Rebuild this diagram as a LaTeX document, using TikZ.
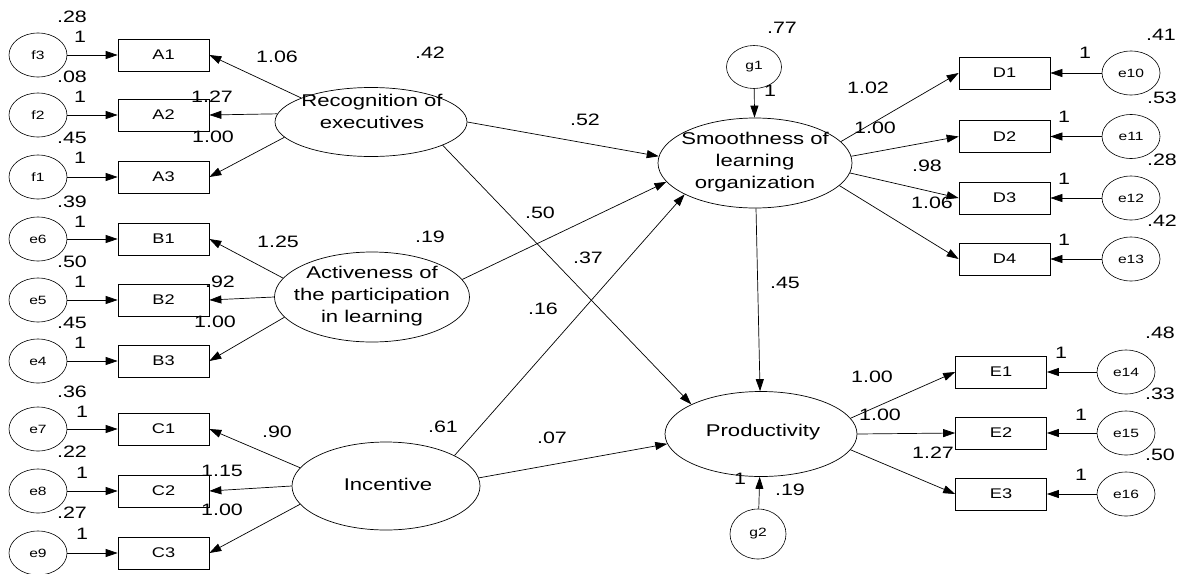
\documentclass[tikz,border=0pt]{standalone}
\usepackage{fontspec}
\setmainfont{Liberation Sans}[FakeStretch=1.3]
\usetikzlibrary{arrows.meta,shapes.geometric}
\begin{document}
\begin{tikzpicture}[x=1pt,y=-1pt,
 box/.style={draw, line width=0.7pt, minimum width=91pt, minimum height=32pt, inner sep=0pt, font=\fontsize{14}{16}\selectfont},
 err/.style={draw, ellipse, line width=0.6pt, minimum width=58pt, minimum height=44pt, inner sep=0pt, font=\fontsize{12}{14}\selectfont},
 lat/.style={draw, ellipse, line width=0.7pt, inner sep=0pt},
 ltxt/.style={align=center, inner sep=0pt, font=\fontsize{17}{22}\selectfont},
 num/.style={inner sep=0pt, font=\fontsize{16.5}{18}\selectfont},
 arr/.style={-{Triangle[length=12pt,width=8pt]}, line width=0.7pt},
]
\useasboundingbox (0,0) rectangle (1182,573);
% observed boxes left
\node[box] (A1) at (163.5,55) {A1};
\node[box] (A2) at (163.5,115) {A2};
\node[box] (A3) at (163.5,177) {A3};
\node[box] (B1) at (163.5,239) {B1};
\node[box] (B2) at (163.5,300) {B2};
\node[box] (B3) at (163.5,361) {B3};
\node[box] (C1) at (163.5,429) {C1};
\node[box] (C2) at (163.5,491) {C2};
\node[box] (C3) at (163.5,553) {C3};
% error circles left
\node[err] (f3) at (38,55) {f3};
\node[err] (f2) at (38,115) {f2};
\node[err] (f1) at (38,177) {f1};
\node[err] (e6) at (38,239) {e6};
\node[err] (e5) at (38,300) {e5};
\node[err] (e4) at (38,361) {e4};
\node[err] (e7) at (38,429) {e7};
\node[err] (e8) at (38,491) {e8};
\node[err] (e9) at (38,553) {e9};
% right boxes
\node[box] (D1) at (1004.5,73) {D1};
\node[box] (D2) at (1004.5,136.5) {D2};
\node[box] (D3) at (1004.5,198) {D3};
\node[box] (D4) at (1004.5,259) {D4};
\node[box] (E1) at (1001,372) {E1};
\node[box] (E2) at (1001,433) {E2};
\node[box] (E3) at (1001,494) {E3};
\node[err] (e10) at (1131,73) {e10};
\node[err] (e11) at (1131,136.5) {e11};
\node[err] (e12) at (1131,198) {e12};
\node[err] (e13) at (1131,259) {e13};
\node[err] (e14) at (1126,372) {e14};
\node[err] (e15) at (1126,433) {e15};
\node[err] (e16) at (1126,494) {e16};
% latent
\node[lat, minimum width=192pt, minimum height=69pt] (rec) at (371,122) {};
\node[lat, minimum width=195pt, minimum height=90pt] (act) at (372,297) {};
\node[lat, minimum width=188pt, minimum height=88pt] (inc) at (386,486) {};
\node[lat, minimum width=194pt, minimum height=90pt] (sm) at (755,163) {};
\node[lat, minimum width=192pt, minimum height=85pt] (prod) at (761,434) {};
\node[ltxt] (rect) at (372,111) {Recognition of\\executives};
\node[ltxt] (actt) at (372,296) {Activeness of\\the participation\\in learning};
\node[ltxt] (inct) at (388,484) {Incentive};
\node[ltxt] (smt) at (755,162) {Smoothness of\\learning\\organization};
\node[ltxt] (prodt) at (763,432) {Productivity};
\node[err, minimum width=55pt, minimum height=43pt] (g1) at (754,67) {g1};
\node[err, minimum width=56pt, minimum height=50pt] (g2) at (758,534) {g2};
% error arrows
\foreach \e/\b in {f3/A1,f2/A2,f1/A3,e6/B1,e5/B2,e4/B3,e7/C1,e8/C2,e9/C3,e10/D1,e11/D2,e12/D3,e13/D4,e14/E1,e15/E2,e16/E3}
  \draw[arr] (\e) -- (\b);
% loadings left
\draw[arr] (rec.161) -- (A1.east);
\draw[arr] (rec.175) -- (A2.east);
\draw[arr] (rec.190) -- (A3.east);
\draw[arr] (act.168) -- (B1.east);
\draw[arr] (act.180) -- (B2.east);
\draw[arr] (act.193) -- (B3.east);
\draw[arr] (inc.168) -- (C1.east);
\draw[arr] (inc.180) -- (C2.east);
\draw[arr] (inc.192) -- (C3.east);
% structural
\draw[arr] (rec.0) -- (sm.176);
\draw[arr] (rec.-18) -- (prod.157);
\draw[arr] (act.11) -- (sm.192);
\draw[arr] (inc.24) -- (sm.204);
\draw[arr] (inc.5) -- (prod.186);
\draw[arr] (sm) -- (prod);
\draw[arr] (g1) -- (sm);
\draw[arr] (g2) -- (prod);
% loadings right
\draw[arr] (sm.14) -- (D1.west);
\draw[arr] (sm.4) -- (D2.west);
\draw[arr] (sm.-6) -- (D3.west);
\draw[arr] (sm.-15) -- (D4.west);
\draw[arr] (prod.10) -- (E1.west);
\draw[arr] (prod.0) -- (E2.west);
\draw[arr] (prod.-10) -- (E3.west);
% numbers left
\node[num] (n1) at (72,17) {.28};
\node[num] (n2) at (80,37) {1};
\node[num] (n3) at (72,77) {.08};
\node[num] (n4) at (80,97) {1};
\node[num] (n5) at (72,138) {.45};
\node[num] (n6) at (80,158) {1};
\node[num] (n7) at (72,202) {.39};
\node[num] (n8) at (80,222) {1};
\node[num] (n9) at (72,262) {.50};
\node[num] (n10) at (80,282) {1};
\node[num] (n11) at (72,323) {.45};
\node[num] (n12) at (80,343) {1};
\node[num] (n13) at (72,392) {.36};
\node[num] (n14) at (82,412) {1};
\node[num] (n15) at (72,452) {.22};
\node[num] (n16) at (82,473) {1};
\node[num] (n17) at (72,513) {.27};
\node[num] (n18) at (82,534) {1};
\node[num] (n19) at (277,57) {1.06};
\node[num] (n20) at (212,97) {1.27};
\node[num] (n21) at (213,137) {1.00};
\node[num] (n22) at (430,53) {.42};
\node[num] (n23) at (278,242) {1.25};
\node[num] (n24) at (220,282) {.92};
\node[num] (n25) at (215,322) {1.00};
\node[num] (n26) at (430,237) {.19};
\node[num] (n27) at (277,432) {.90};
\node[num] (n28) at (222,471) {1.15};
\node[num] (n29) at (222,510) {1.00};
\node[num] (n30) at (443,427) {.61};
% middle
\node[num] (n31) at (585,120) {.52};
\node[num] (n32) at (540,213) {.50};
\node[num] (n33) at (588,258) {.37};
\node[num] (n34) at (543,309) {.16};
\node[num] (n35) at (552,438) {.07};
\node[num] (n36) at (785,283) {.45};
\node[num] (n37) at (782,28) {.77};
\node[num] (n38) at (770,91) {1};
\node[num] (n39) at (740,479) {1};
\node[num] (n40) at (790,490) {.19};
% right
\node[num] (n41) at (868,88) {1.02};
\node[num] (n42) at (875,128) {1.00};
\node[num] (n43) at (927,166) {.98};
\node[num] (n44) at (932,203) {1.06};
\node[num] (n45) at (1085,53) {1};
\node[num] (n46) at (1064,117) {1};
\node[num] (n47) at (1064,179) {1};
\node[num] (n48) at (1064,240) {1};
\node[num] (n49) at (1161,35) {.41};
\node[num] (n50) at (1162,98) {.53};
\node[num] (n51) at (1162,160) {.28};
\node[num] (n52) at (1162,221) {.42};
\node[num] (n53) at (1160,333) {.48};
\node[num] (n54) at (1160,394) {.33};
\node[num] (n55) at (1160,455) {.50};
\node[num] (n56) at (872,377) {1.00};
\node[num] (n57) at (880,415) {1.00};
\node[num] (n58) at (933,453) {1.27};
\node[num] (n59) at (1061,353) {1};
\node[num] (n60) at (1081,415) {1};
\node[num] (n61) at (1081,475) {1};
\end{tikzpicture}
\end{document}
